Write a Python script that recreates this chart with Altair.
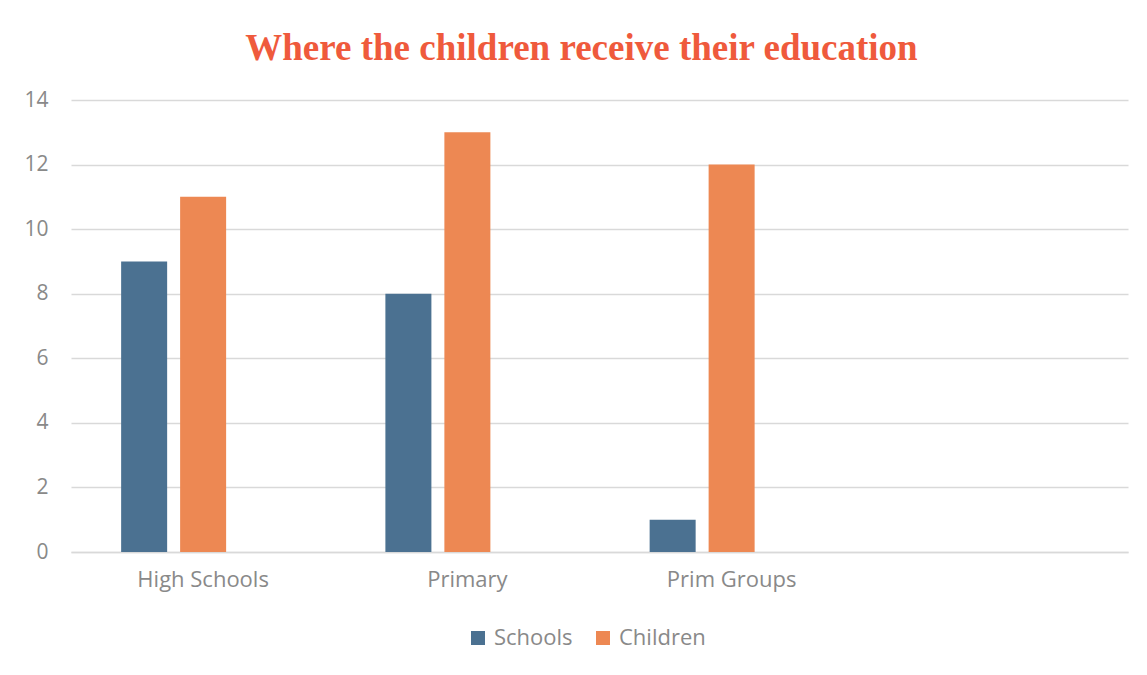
import altair as alt
import pandas as pd

categories = ["High Schools", "Primary", "Prim Groups"]
schools = [9, 8, 1]
children = [11, 13, 12]
series = ["Schools", "Children"]
colors = ["#4b7191", "#ed8853"]
y_ticks = [0, 2, 4, 6, 8, 10, 12, 14]

rows = []
for c, s, ch in zip(categories, schools, children):
    rows.append({"category": c, "series": "Schools", "value": s})
    rows.append({"category": c, "series": "Children", "value": ch})
df = pd.DataFrame(rows)

x_domain = categories + [" "]
offset_domain = series + ["_"]

label_font = "Open Sans"
label_color = "#898989"
grid_color = "#d9d9d9"

chart = alt.Chart(df).mark_bar().encode(
    x=alt.X("category:N", sort=x_domain,
            scale=alt.Scale(domain=x_domain, paddingInner=0, paddingOuter=0),
            axis=alt.Axis(title=None, labelAngle=0, ticks=False, grid=False,
                          domain=True, domainColor=grid_color, domainWidth=1.5,
                          labelFont=label_font, labelFontSize=22, labelColor=label_color,
                          labelPadding=17)),
    xOffset=alt.XOffset("series:N",
                        scale=alt.Scale(domain=offset_domain, paddingInner=0.22, paddingOuter=0.85)),
    y=alt.Y("value:Q",
            scale=alt.Scale(domain=[0, 14], nice=False),
            axis=alt.Axis(title=None, values=y_ticks, ticks=False, domain=False,
                          grid=True, gridColor=grid_color, gridWidth=1.5,
                          labelFont=label_font, labelFontSize=21, labelColor=label_color,
                          labelPadding=23)),
    color=alt.Color("series:N",
                    scale=alt.Scale(domain=series, range=colors),
                    legend=alt.Legend(title=None, orient="none", direction="horizontal",
                                      legendX=396, legendY=527,
                                      symbolType="square", symbolSize=196,
                                      symbolStrokeWidth=0, symbolOpacity=1,
                                      labelFont=label_font, labelFontSize=22,
                                      labelColor=label_color, labelOffset=5,
                                      columnPadding=19)),
).properties(
    width=1057,
    height=452,
    background="white",
    title=alt.TitleParams(
        text="Where the children receive their education",
        font="Liberation Serif", fontSize=37, fontWeight="bold",
        color="#ef5a3c", anchor="middle", dx=-18, offset=21,
    ),
    padding={"left": 63, "top": 92, "right": 10, "bottom": 100},
    autosize=alt.AutoSizeParams(type="none"),
).configure_view(strokeWidth=0)

chart.save("out.html", embed_options={"renderer": "svg", "actions": False})
